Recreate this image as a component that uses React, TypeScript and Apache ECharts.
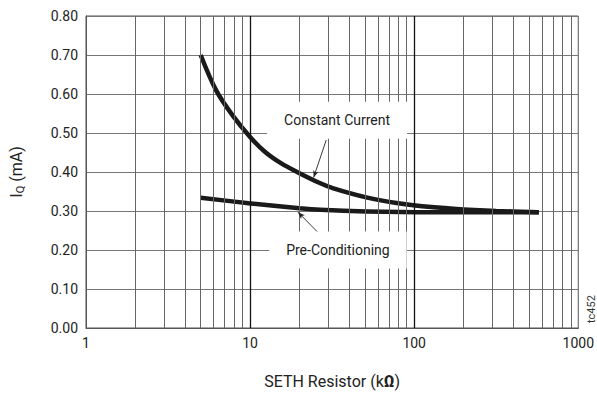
import React, { useEffect, useRef } from "react";
import * as echarts from "echarts";

const ccX = [5, 6.2, 7.8, 10, 12.3, 15.5, 20, 26.8, 32.2, 51, 80, 127, 200, 316, 575];
const ccY = [0.7, 0.61, 0.546, 0.49, 0.452, 0.422, 0.397, 0.371, 0.358, 0.335, 0.32, 0.31, 0.304, 0.3, 0.297];
const pcX = [5, 9.8, 20, 26.8, 51, 127, 300, 575];
const pcY = [0.334, 0.32, 0.307, 0.303, 0.299, 0.297, 0.297, 0.297];
const minorGridX = [2, 3, 4, 5, 6, 7, 8, 9, 20, 30, 40, 50, 60, 70, 80, 90, 200, 300, 400, 500, 600, 700, 800, 900];
const majorGridX = [10, 100];
const yTicks = [0, 0.1, 0.2, 0.3, 0.4, 0.5, 0.6, 0.7, 0.8];
const xTicks = [1, 10, 100, 1000];
const annotationTexts = ["Constant Current", "Pre-Conditioning"];
const annotationAt = [
  [33.9, 0.533],
  [34.3, 0.2],
];
const leaderFrom = [
  [29.1, 0.482],
  [26.1, 0.2436],
];
const leaderTo = [
  [24.4, 0.386],
  [19.6, 0.297],
];

const FONT = "'Liberation Sans Narrow', 'Roboto', 'Liberation Sans', Arial, sans-serif";

export default function App() {
  const ref = useRef<HTMLDivElement>(null);
  useEffect(() => {
    if (!ref.current) return;
    const chart = echarts.init(ref.current, null, { renderer: "svg" });
    const cc = ccX.map((x, i) => [x, ccY[i]]);
    const pc = pcX.map((x, i) => [x, pcY[i]]);
    chart.setOption({
      animation: false,
      backgroundColor: "#fff",
      textStyle: { fontFamily: FONT },
      grid: {
        left: 80,
        right: 13,
        top: 16,
        bottom: 72,
        show: true,
        borderColor: "#555",
        borderWidth: 1,
      },
      xAxis: {
        type: "log",
        logBase: 10,
        min: xTicks[0],
        max: xTicks[xTicks.length - 1],
        name: "{a|SETH Resistor (k}{b|Ω}{a|)}",
        nameLocation: "middle",
        nameGap: 45,
        nameTextStyle: {
          rich: {
            a: { fontSize: 16, color: "#222", fontFamily: FONT },
            b: { fontSize: 16, color: "#222", fontWeight: "bold", fontFamily: FONT },
          },
        },
        axisLine: { show: true, lineStyle: { color: "#555", width: 1 } },
        axisTick: { show: false },
        splitLine: { show: false },
        axisLabel: {
          fontSize: 14,
          color: "#222",
          margin: 8,
          fontFamily: FONT,
          formatter: (v: number) => String(Math.round(v)),
        },
      },
      yAxis: {
        type: "value",
        min: yTicks[0],
        max: yTicks[yTicks.length - 1],
        interval: 0.1,
        name: "{a|I}{s|Q}{a| (mA)}",
        nameLocation: "middle",
        nameGap: 60,
        nameTextStyle: {
          rich: {
            a: { fontSize: 16, color: "#222", fontFamily: FONT, lineHeight: 20 },
            s: { fontSize: 11, color: "#222", fontFamily: FONT, verticalAlign: "bottom", lineHeight: 14 },
          },
        },
        axisLine: { show: true, lineStyle: { color: "#555", width: 1 } },
        axisTick: { show: false },
        splitLine: { show: true, lineStyle: { color: "#777", width: 1 } },
        axisLabel: {
          fontSize: 14,
          color: "#222",
          margin: 8,
          fontFamily: FONT,
          formatter: (v: number) => v.toFixed(2),
        },
      },
      series: [
        {
          type: "line",
          data: [],
          z: 1,
          silent: true,
          markLine: {
            silent: true,
            symbol: ["none", "none"],
            label: { show: false },
            animation: false,
            data: [
              ...minorGridX.map((v) => ({ xAxis: v, lineStyle: { color: "#666", width: 1, type: "solid" } })),
              ...majorGridX.map((v) => ({ xAxis: v, lineStyle: { color: "#111", width: 1.3, type: "solid" } })),
            ],
          },
        },
        {
          name: annotationTexts[0],
          type: "line",
          data: cc,
          z: 3,
          smooth: 0.35,
          showSymbol: false,
          symbol: "none",
          lineStyle: { color: "#1a1a1a", width: 4.5 },
        },
        {
          name: annotationTexts[1],
          type: "line",
          data: pc,
          z: 3,
          smooth: 0.35,
          showSymbol: false,
          symbol: "none",
          lineStyle: { color: "#1a1a1a", width: 4.5 },
        },
        {
          type: "line",
          data: [],
          z: 2,
          silent: true,
          markPoint: {
            silent: true,
            symbol: "rect",
            symbolSize: 0,
            animation: false,
            label: {
              show: true,
              position: "inside",
              formatter: "{b}",
              backgroundColor: "#fff",
              padding: [12, 17, 11, 17],
              fontSize: 14,
              color: "#222",
              fontFamily: FONT,
            },
            data: annotationTexts.map((t, i) => ({ name: t, coord: annotationAt[i] })),
          },
          markLine: {
            silent: true,
            symbol: ["none", "arrow"],
            symbolSize: [4, 7],
            label: { show: false },
            animation: false,
            lineStyle: { color: "#222", width: 0.9, type: "solid" },
            data: leaderFrom.map((f, i) => [{ coord: f }, { coord: leaderTo[i] }]),
          },
        },
      ],
      graphic: [
        {
          type: "text",
          x: 597,
          y: 323,
          rotation: Math.PI / 2,
          style: {
            text: "tc452",
            fontSize: 11,
            fill: "#333",
            fontFamily: FONT,
            textAlign: "left",
            textVerticalAlign: "bottom",
          },
        },
      ],
    });
    return () => chart.dispose();
  }, []);
  return (
    <div
      ref={ref}
      style={{ position: "fixed", left: 0, top: 0, width: 597, height: 400, background: "#fff" }}
    />
  );
}
